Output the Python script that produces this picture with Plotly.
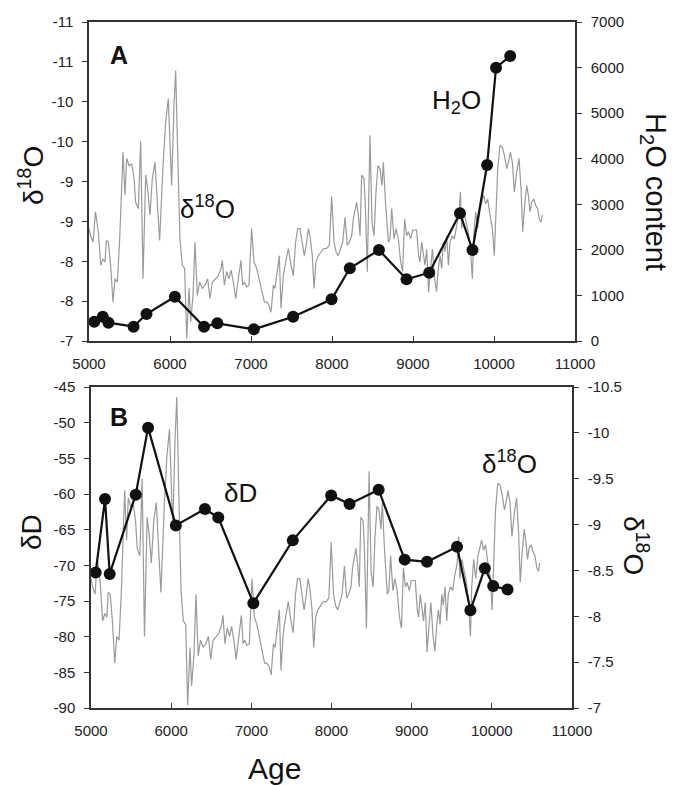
import plotly.graph_objects as go

# ---------------- data ----------------
# high-resolution speleothem d18O record (grey line, both panels)
o18_age = [5000, 5020, 5050, 5080, 5115, 5145, 5173, 5198, 5214, 5239, 5267, 5296, 5321, 5350, 5379,
           5420, 5444, 5465, 5494, 5527, 5556, 5576, 5609, 5638, 5667, 5700, 5724, 5753, 5782, 5815,
           5848, 5872, 5914, 5947, 5979, 6020, 6049, 6070, 6099, 6123, 6152, 6181, 6206, 6235, 6255,
           6284, 6309, 6337, 6366, 6399, 6432, 6465, 6494, 6523, 6564, 6597, 6630, 6646, 6671, 6700,
           6728, 6753, 6782, 6811, 6844, 6876, 6897, 6918, 6946, 6975, 7008, 7037, 7070, 7099, 7132,
           7165, 7193, 7222, 7247, 7276, 7296, 7329, 7350, 7370, 7399, 7428, 7461, 7494, 7522, 7551,
           7576, 7605, 7634, 7658, 7687, 7708, 7728, 7757, 7778, 7802, 7831, 7864, 7897, 7934, 7967,
           7996, 8025, 8050, 8078, 8107, 8132, 8161, 8189, 8214, 8243, 8263, 8284, 8304, 8325, 8346,
           8366, 8395, 8412, 8436, 8469, 8494, 8519, 8543, 8568, 8593, 8617, 8634, 8658, 8675, 8696,
           8716, 8737, 8766, 8790, 8819, 8848, 8872, 8897, 8922, 8942, 8971, 8996, 9025, 9045, 9070,
           9086, 9107, 9128, 9148, 9170, 9192, 9215, 9240, 9265, 9290, 9313, 9334, 9354, 9375, 9395,
           9416, 9437, 9457, 9486, 9511, 9539, 9568, 9585, 9601, 9626, 9651, 9683, 9708, 9733, 9749,
           9774, 9799, 9827, 9848, 9873, 9897, 9922, 9951, 9980, 10004, 10025, 10046, 10074, 10103, 10128,
           10157, 10177, 10202, 10227, 10251, 10280, 10309, 10334, 10354, 10375, 10404, 10424, 10445, 10465, 10490,
           10515, 10539, 10560, 10581, 10597]
o18_val = [-8.41, -8.32, -8.24, -8.62, -8.37, -7.95, -8.03, -7.99, -8.26, -8.24, -7.95, -7.49, -7.78, -7.74, -8.28,
           -9.37, -8.83, -9.29, -9.20, -9.22, -9.04, -8.74, -8.66, -9.50, -7.78, -9.08, -8.91, -8.58, -9.04, -9.24,
           -8.66, -8.26, -9.20, -9.75, -10.04, -8.95, -9.95, -10.39, -9.20, -8.28, -7.95, -7.91, -7.03, -7.66, -7.24,
           -7.57, -8.24, -7.57, -7.74, -7.66, -7.70, -7.78, -7.53, -7.74, -7.78, -7.82, -7.91, -8.01, -7.70, -7.87,
           -7.78, -7.89, -7.74, -7.53, -7.78, -8.01, -7.70, -7.74, -7.68, -7.70, -8.41, -7.99, -7.91, -7.78, -7.66,
           -7.49, -7.49, -7.45, -7.36, -7.70, -7.66, -7.89, -8.07, -7.41, -7.82, -7.99, -8.16, -7.95, -7.82, -8.24,
           -8.41, -8.41, -8.24, -8.07, -8.24, -8.41, -8.32, -8.07, -7.66, -7.99, -8.07, -8.12, -8.16, -8.16, -8.20,
           -8.81, -8.24, -8.12, -8.07, -8.16, -8.24, -8.55, -8.20, -8.24, -8.32, -8.53, -8.66, -8.74, -8.58, -8.32,
           -9.08, -9.04, -8.70, -7.87, -9.58, -8.49, -8.32, -8.87, -9.20, -9.16, -8.95, -9.24, -8.78, -8.49, -8.24,
           -8.28, -8.66, -8.28, -8.41, -8.28, -7.99, -7.87, -8.53, -8.32, -8.37, -8.28, -8.39, -8.39, -8.39, -8.07,
           -7.99, -8.24, -8.07, -7.95, -8.15, -7.61, -7.88, -8.15, -7.80, -7.62, -7.91, -8.07, -7.91, -8.24, -8.12,
           -8.32, -7.95, -8.24, -8.32, -8.28, -8.45, -8.58, -8.87, -8.41, -8.62, -8.49, -8.37, -8.16, -7.78, -8.32,
           -8.62, -8.41, -8.66, -8.74, -8.83, -8.72, -8.78, -8.58, -8.41, -8.07, -8.74, -9.16, -9.45, -9.43, -9.33,
           -9.16, -9.24, -9.37, -9.24, -8.87, -9.12, -9.29, -8.91, -8.37, -8.66, -8.95, -8.83, -8.62, -8.74, -8.78,
           -8.70, -8.66, -8.53, -8.49, -8.58]

# fluid-inclusion water content (panel A, black)
h2o_age = [5065, 5170, 5240, 5550, 5710, 6060, 6420, 6585, 7035, 7520,
           7995, 8220, 8580, 8920, 9200, 9580, 9735, 9915, 10025, 10200]
h2o_val = [424, 533, 402, 314, 592, 972, 314, 388, 257, 533,
           915, 1595, 1997, 1353, 1499, 2802, 1997, 3862, 5998, 6254]

# fluid-inclusion dD (panel B, black)
dD_age = [5058, 5175, 5233, 5558, 5712, 6058, 6421, 6588, 7025, 7517,
          7996, 8225, 8588, 8913, 9191, 9566, 9733, 9913, 10017, 10196]
dD_val = [-71.0, -60.7, -71.2, -60.1, -50.7, -64.4, -62.1, -63.3, -75.3, -66.5,
          -60.2, -61.4, -59.4, -69.2, -69.5, -67.4, -76.3, -70.4, -72.9, -73.4]

# tick labels
x_ticks = [5000, 6000, 7000, 8000, 9000, 10000, 11000]
x_text = ["5000", "6000", "7000", "8000", "9000", "10000", "11000"]
a_left_vals = [-11, -10.5, -10, -9.5, -9, -8.5, -8, -7.5, -7]
a_left_text = ["-11", "-11", "-10", "-10", "-9", "-9", "-8", "-8", "-7"]
a_right_vals = [0, 1000, 2000, 3000, 4000, 5000, 6000, 7000]
a_right_text = ["0", "1000", "2000", "3000", "4000", "5000", "6000", "7000"]
b_left_vals = [-90, -85, -80, -75, -70, -65, -60, -55, -50, -45]
b_left_text = ["-90", "-85", "-80", "-75", "-70", "-65", "-60", "-55", "-50", "-45"]
b_right_vals = [-10.5, -10, -9.5, -9, -8.5, -8, -7.5, -7]
b_right_text = ["-10.5", "-10", "-9.5", "-9", "-8.5", "-8", "-7.5", "-7"]

# ---------------- figure ----------------
W, H = 674, 785
FONT = "Liberation Sans, Arial, sans-serif"
GREY = "#9a9a9a"
AX = "#333333"


def px(x):
    return x / W


def py(y):
    return 1 - y / H


fig = go.Figure()

# Panel A
fig.add_trace(go.Scatter(x=o18_age, y=o18_val, mode="lines", line=dict(color=GREY, width=1.2),
                         xaxis="x", yaxis="y", showlegend=False))
fig.add_trace(go.Scatter(x=h2o_age, y=h2o_val, mode="lines+markers",
                         line=dict(color="#111111", width=2.2),
                         marker=dict(color="#111111", size=12),
                         xaxis="x", yaxis="y2", showlegend=False))
# Panel B (grey on base axis y3 (right side), black on overlay y4 (left side))
fig.add_trace(go.Scatter(x=o18_age, y=o18_val, mode="lines", line=dict(color=GREY, width=1.2),
                         xaxis="x2", yaxis="y3", showlegend=False))
fig.add_trace(go.Scatter(x=dD_age, y=dD_val, mode="lines+markers",
                         line=dict(color="#111111", width=2.2),
                         marker=dict(color="#111111", size=12),
                         xaxis="x2", yaxis="y4", showlegend=False))

tickfont = dict(family=FONT, size=15, color="#222222")
common_x = dict(range=[5000, 11000], tickvals=x_ticks, ticktext=x_text, ticks="inside", ticklen=5,
                tickcolor=AX, showline=True, linecolor=AX, linewidth=1.5, mirror=True,
                showgrid=False, zeroline=False, tickfont=tickfont, ticklabelstandoff=8,
                automargin=False)
common_y = dict(ticks="outside", ticklen=5, tickcolor=AX, showline=True, linecolor=AX, linewidth=1.5,
                showgrid=False, zeroline=False, tickfont=tickfont, ticklabelstandoff=6,
                automargin=False)

fig.update_layout(
    width=W, height=H,
    margin=dict(l=0, r=0, t=0, b=0, autoexpand=False),
    paper_bgcolor="white", plot_bgcolor="white",
    xaxis=dict(domain=[px(89), px(575)], anchor="y", **common_x),
    yaxis=dict(domain=[py(341), py(22)], range=[-7, -11], tickvals=a_left_vals, ticktext=a_left_text,
               side="left", anchor="x", **common_y),
    yaxis2=dict(range=[0, 7000], tickvals=a_right_vals, ticktext=a_right_text,
                side="right", overlaying="y", anchor="x", **common_y),
    xaxis2=dict(domain=[px(91), px(572)], anchor="y3", **common_x),
    yaxis3=dict(domain=[py(708), py(387)], range=[-7, -10.5], tickvals=b_right_vals, ticktext=b_right_text,
                side="right", anchor="x2", **common_y),
    yaxis4=dict(range=[-90, -45], tickvals=b_left_vals, ticktext=b_left_text,
                side="left", overlaying="y3", anchor="x2", **common_y),
)


def ann(text, x, y, size, angle=0, bold=False):
    fig.add_annotation(text=("<b>%s</b>" % text) if bold else text,
                       x=px(x), y=py(y), xref="paper", yref="paper",
                       xanchor="center", yanchor="middle", showarrow=False, textangle=angle,
                       font=dict(family=FONT, size=size, color="#111111"))


# axis titles
ann("δ<sup>18</sup>O", 31, 176, 28, angle=-90)
ann("H<sub>2</sub>O content", 654, 192, 29, angle=90)
ann("δD", 31, 532, 28, angle=-90)
ann("δ<sup>18</sup>O", 636, 545, 28, angle=90)
ann("Age", 274, 768, 30)

# in-plot labels
ann("A", 119, 55, 25, bold=True)
ann("B", 119, 417, 25, bold=True)
ann("δ<sup>18</sup>O", 207, 208, 26)
ann("H<sub>2</sub>O", 456, 102, 26)
ann("δD", 240, 493, 26)
ann("δ<sup>18</sup>O", 509, 462, 26)

fig.write_html("out.html", config={"displayModeBar": False},
               post_script="document.body.style.margin='0';document.body.style.padding='0';")
